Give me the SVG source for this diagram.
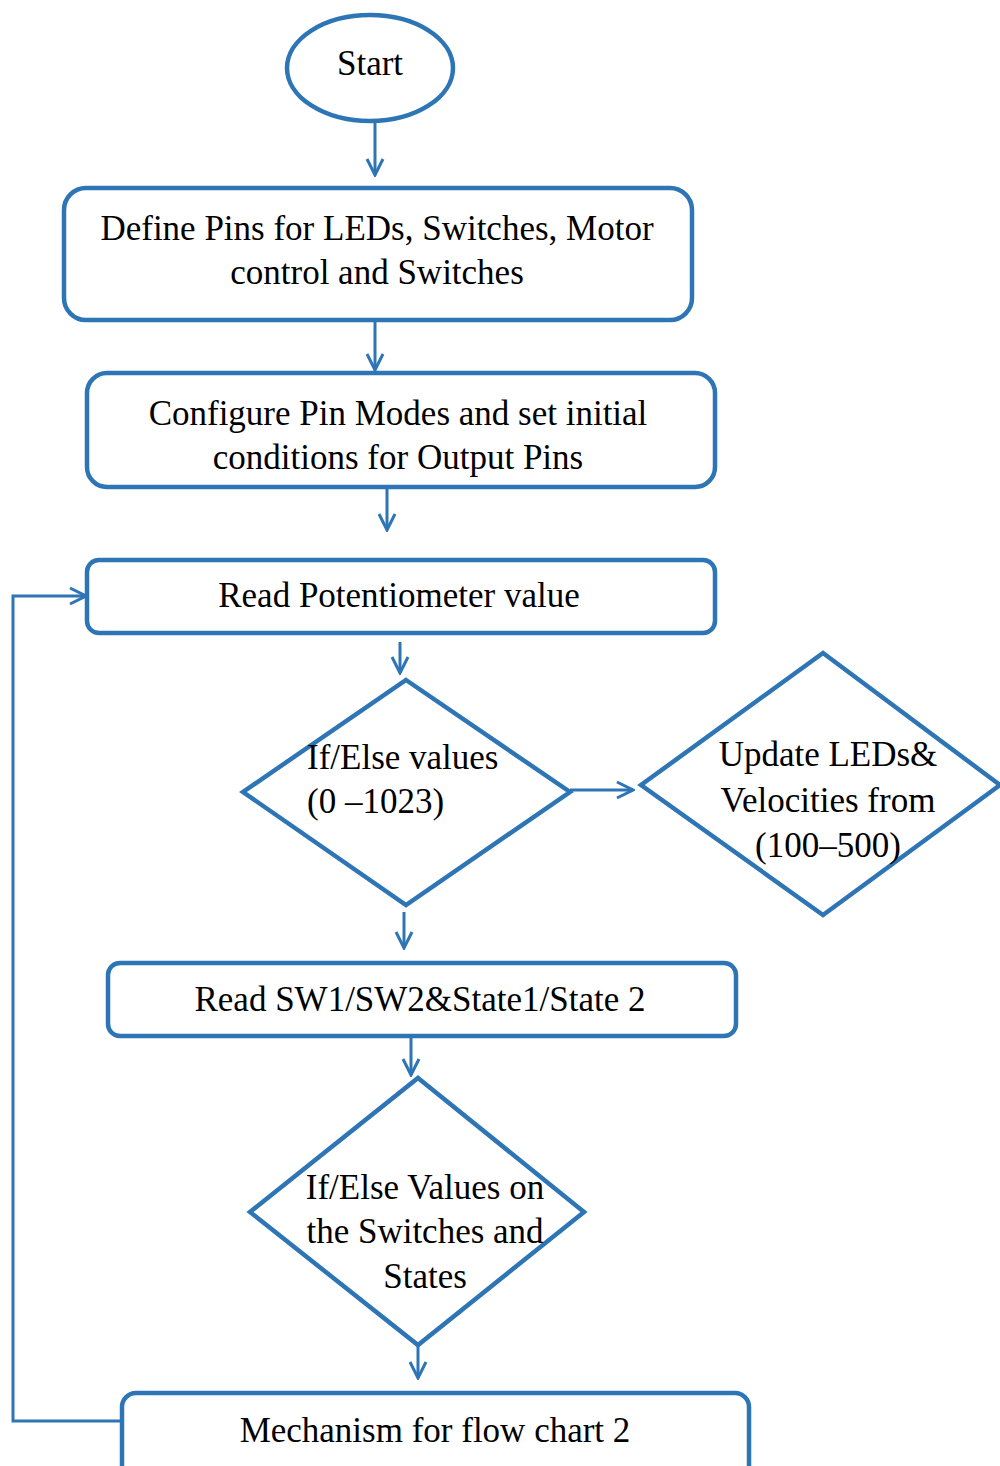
<svg xmlns="http://www.w3.org/2000/svg" width="1000" height="1466" viewBox="0 0 1000 1466">
<defs>
<marker id="arr" viewBox="0 0 20 20" refX="18" refY="10" markerWidth="20" markerHeight="20" markerUnits="userSpaceOnUse" orient="auto">
<path d="M2,2 L18,10 L2,18" fill="none" stroke="#2E75B6" stroke-width="3"/>
</marker>
<style>
.shape{fill:#fff;stroke:#2E75B6;stroke-width:4.5}
.conn{fill:none;stroke:#2E75B6;stroke-width:3}
.t{font-family:'Liberation Serif','DejaVu Serif',serif;font-size:35px;fill:#000}
.c{text-anchor:middle}
</style>
</defs>
<rect width="1000" height="1466" fill="#fff"/>
<g id="connectors">
<line class="conn" x1="375" y1="122" x2="375" y2="175" marker-end="url(#arr)"/>
<line class="conn" x1="375" y1="320" x2="375" y2="370" marker-end="url(#arr)"/>
<line class="conn" x1="387" y1="487" x2="387" y2="530" marker-end="url(#arr)"/>
<line class="conn" x1="400" y1="642" x2="400" y2="673" marker-end="url(#arr)"/>
<line class="conn" x1="570" y1="790" x2="633" y2="790" marker-end="url(#arr)"/>
<line class="conn" x1="404" y1="912" x2="404" y2="948" marker-end="url(#arr)"/>
<line class="conn" x1="411" y1="1036" x2="411" y2="1075" marker-end="url(#arr)"/>
<line class="conn" x1="418" y1="1345" x2="418" y2="1378" marker-end="url(#arr)"/>
<polyline class="conn" points="122,1421 13,1421 13,596 86,596" marker-end="url(#arr)"/>
</g>
<g id="start">
<ellipse class="shape" cx="370" cy="68" rx="83" ry="53"/>
<text class="t c" x="370" y="75" font-family="Liberation Serif, serif">Start</text>
</g>
<g id="define-pins">
<rect class="shape" x="64" y="188" width="628" height="132" rx="22"/>
<text class="t c" x="377" y="240" font-family="Liberation Serif, serif">Define Pins for LEDs, Switches, Motor</text>
<text class="t c" x="377" y="284" font-family="Liberation Serif, serif">control and Switches</text>
</g>
<g id="configure">
<rect class="shape" x="87" y="373" width="628" height="114" rx="20"/>
<text class="t c" x="398" y="425" font-family="Liberation Serif, serif">Configure Pin Modes and set initial</text>
<text class="t c" x="398" y="469" font-family="Liberation Serif, serif">conditions for Output Pins</text>
</g>
<g id="read-pot">
<rect class="shape" x="87" y="560" width="628" height="73" rx="12"/>
<text class="t c" x="399" y="607" font-family="Liberation Serif, serif">Read Potentiometer value</text>
</g>
<g id="ifelse-values">
<polygon class="shape" points="406,680 570,792 406,905 243,792"/>
<text class="t" x="307" y="769" font-family="Liberation Serif, serif">If/Else values</text>
<text class="t" x="307" y="813" font-family="Liberation Serif, serif">(0 –1023)</text>
</g>
<g id="update-leds">
<polygon class="shape" points="823,653 1000,785 823,915 641,785"/>
<text class="t c" x="828" y="766" font-family="Liberation Serif, serif">Update LEDs&amp;</text>
<text class="t c" x="828" y="812" font-family="Liberation Serif, serif">Velocities from</text>
<text class="t c" x="828" y="857" font-family="Liberation Serif, serif">(100–500)</text>
</g>
<g id="read-sw">
<rect class="shape" x="108" y="963" width="628" height="73" rx="12"/>
<text class="t c" x="420" y="1011" font-family="Liberation Serif, serif">Read SW1/SW2&amp;State1/State 2</text>
</g>
<g id="ifelse-switches">
<polygon class="shape" points="418,1078 584,1212 418,1345 250,1212"/>
<text class="t c" x="425" y="1199" font-family="Liberation Serif, serif">If/Else Values on</text>
<text class="t c" x="425" y="1243" font-family="Liberation Serif, serif">the Switches and</text>
<text class="t c" x="425" y="1288" font-family="Liberation Serif, serif">States</text>
</g>
<g id="mechanism">
<rect class="shape" x="122" y="1393" width="627" height="90" rx="14"/>
<text class="t c" x="435" y="1442" font-family="Liberation Serif, serif">Mechanism for flow chart 2</text>
</g>
</svg>
